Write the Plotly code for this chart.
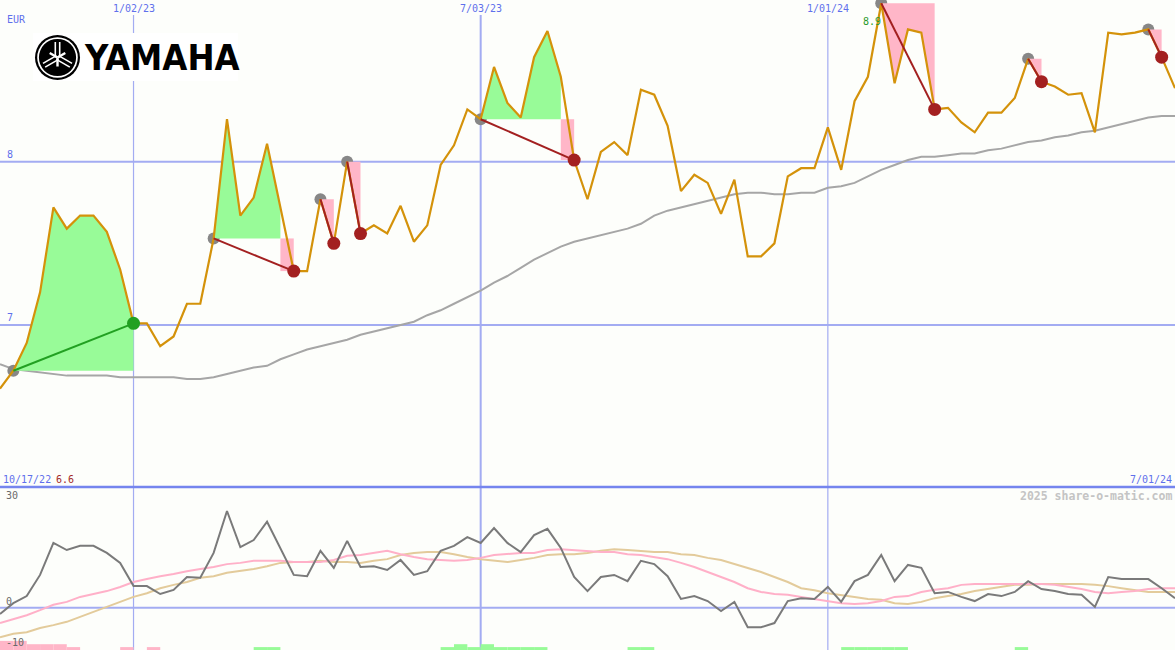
import math
import pandas as pd
import plotly.graph_objects as go

# ---------------- data (weekly) ----------------
weeks = pd.date_range("2022-10-24", periods=89, freq="7D")

price = [6.61, 6.72, 6.89, 7.20, 7.72, 7.59, 7.67, 7.67, 7.57, 7.34,
         7.01, 7.01, 6.87, 6.93, 7.13, 7.13, 7.53, 8.26, 7.67, 7.78,
         8.11, 7.72, 7.33, 7.33, 7.77, 7.50, 8.00, 7.56, 7.61, 7.56,
         7.73, 7.51, 7.61, 7.98, 8.10, 8.32, 8.26, 8.58, 8.36, 8.27,
         8.64, 8.80, 8.52, 8.01, 7.77, 8.06, 8.12, 8.04, 8.44, 8.41,
         8.22, 7.82, 7.92, 7.87, 7.68, 7.89, 7.42, 7.42, 7.50, 7.91,
         7.96, 7.96, 8.21, 7.95, 8.37, 8.52, 8.97, 8.48, 8.81, 8.79,
         8.32, 8.33, 8.24, 8.18, 8.30, 8.30, 8.39, 8.63, 8.49, 8.46,
         8.41, 8.42, 8.18, 8.79, 8.78, 8.79, 8.81, 8.64, 8.45]

moving_avg = [6.76, 6.73, 6.72, 6.71, 6.70, 6.69, 6.69, 6.69, 6.69, 6.68,
              6.68, 6.68, 6.68, 6.68, 6.67, 6.67, 6.68, 6.70, 6.72, 6.74,
              6.75, 6.79, 6.82, 6.85, 6.87, 6.89, 6.91, 6.94, 6.96, 6.98,
              7.00, 7.02, 7.06, 7.09, 7.13, 7.17, 7.21, 7.26, 7.30, 7.35,
              7.40, 7.44, 7.48, 7.51, 7.53, 7.55, 7.57, 7.59, 7.62, 7.67,
              7.70, 7.72, 7.74, 7.76, 7.78, 7.80, 7.81, 7.81, 7.80, 7.80,
              7.81, 7.81, 7.84, 7.85, 7.87, 7.91, 7.95, 7.98, 8.01, 8.03,
              8.03, 8.04, 8.05, 8.05, 8.07, 8.08, 8.10, 8.12, 8.13, 8.15,
              8.16, 8.18, 8.19, 8.21, 8.23, 8.25, 8.27, 8.28, 8.28]

momentum = [-1.5, 1.1, 2.8, 7.9, 15.6, 13.9, 14.9, 14.9, 13.2, 10.8,
            5.2, 5.2, 3.3, 4.3, 7.4, 7.2, 13.2, 23.3, 14.6, 16.3,
            20.7, 14.4, 7.9, 7.6, 13.7, 9.6, 16.1, 9.8, 10.0, 9.1,
            11.5, 7.9, 8.8, 13.7, 14.9, 17.0, 15.6, 19.2, 15.6, 13.4,
            17.5, 19.0, 14.4, 7.4, 4.0, 7.4, 7.9, 6.4, 11.3, 10.5,
            7.6, 2.1, 2.8, 1.6, -0.8, 1.4, -4.7, -4.7, -3.7, 1.6,
            2.3, 2.1, 5.0, 1.4, 6.4, 7.9, 12.7, 6.4, 10.3, 9.6,
            3.5, 3.8, 2.6, 1.6, 3.3, 2.8, 3.8, 6.4, 4.5, 4.0,
            3.3, 3.1, 0.2, 7.4, 6.9, 6.9, 6.9, 4.7, 2.3]

mom_fast = [-3.7, -2.7, -1.8, -0.6, 0.7, 1.4, 2.6, 3.3, 4.0, 5.0,
            6.2, 6.9, 7.6, 8.1, 8.8, 9.3, 9.8, 10.5, 10.8, 11.3,
            11.3, 11.3, 11.0, 11.0, 11.0, 11.5, 12.5, 12.7, 13.2, 13.7,
            12.9, 12.2, 11.7, 11.5, 11.3, 11.5, 12.0, 12.7, 12.9, 13.2,
            13.2, 13.9, 14.1, 13.9, 13.7, 13.4, 13.4, 12.9, 12.7, 12.2,
            11.7, 10.8, 9.8, 8.6, 7.4, 6.2, 4.7, 3.8, 3.3, 3.1,
            2.6, 2.1, 1.6, 1.1, 0.9, 1.1, 1.6, 2.6, 2.8, 3.8,
            4.3, 4.7, 5.5, 5.7, 5.7, 5.7, 5.7, 5.7, 5.7, 5.5,
            5.0, 4.5, 3.8, 3.5, 3.8, 4.0, 4.5, 4.7, 4.7]

mom_slow = [-7.1, -6.3, -5.9, -4.9, -4.2, -3.4, -2.2, -1.0, 0.2, 1.4,
            2.6, 3.5, 4.7, 5.5, 6.2, 7.2, 7.6, 8.4, 8.8, 9.3,
            10.0, 10.8, 11.0, 11.0, 11.3, 11.0, 11.0, 10.8, 11.3, 11.7,
            12.7, 13.2, 13.4, 13.4, 12.9, 12.2, 11.7, 11.3, 11.0, 11.5,
            12.0, 12.7, 12.9, 12.9, 13.2, 13.7, 14.1, 13.9, 13.7, 13.4,
            13.4, 12.9, 12.7, 12.0, 11.5, 10.5, 9.6, 8.6, 7.4, 6.2,
            4.7, 4.2, 3.5, 3.1, 2.6, 2.1, 1.9, 1.1, 0.9, 1.4,
            2.3, 2.8, 3.3, 4.0, 4.5, 5.0, 5.5, 5.5, 5.7, 5.7,
            5.7, 5.7, 5.5, 5.2, 4.7, 4.2, 3.8, 3.8, 3.8]

pink_bar_weeks = [0, 1, 2, 3, 4, 5, 9, 11]
pink_bar_vals = [2.2, 2.2, 1.4, 1.4, 1.4, 0.7, 0.7, 0.7]
green_bar_weeks = [19, 20, 33, 34, 35, 36, 37, 38, 39, 40, 47, 48, 63, 64, 65, 66, 67, 76]
green_bar_vals = [0.7, 0.7, 0.7, 1.4, 0.7, 1.4, 0.7, 0.7, 0.7, 0.7, 0.7, 0.7, 0.7, 0.7, 0.7, 0.7, 0.7, 0.7]

# highlighted swings: (start week index, end week index)
swings = [(1, 10), (16, 22), (24, 25), (26, 27), (36, 43), (66, 70), (77, 78), (86, 87)]

date_ticks = ["2023-01-02", "2023-07-03", "2024-01-01"]
date_tick_labels = ["1/02/23", "7/03/23", "1/01/24"]
start_label = "10/17/22"
end_label = "7/01/24"
price_ticks = [7, 8]
osc_ticks = [30, 0, -10]

# ---------------- styling ----------------
W, H = 1175, 650
BG = "#fdfefb"
BLUE_TXT = "#5f70ec"
GRID = "#a3acf2"
SEP = "#7585ee"
ORANGE = "#d4920a"
MONO = "DejaVu Sans Mono, Liberation Mono, monospace"
SPLIT = 163 / 650
Y1 = [6.008, 8.99]
Y2 = [-10.19, 29.08]


def px(x):
    return x / W


def py(y):
    return 1 - y / H


fig = go.Figure()

# moving average
fig.add_trace(go.Scatter(x=weeks, y=moving_avg, mode="lines",
                         line=dict(color="#a6a6a6", width=2), hoverinfo="skip"))

# start markers
fig.add_trace(go.Scatter(x=[weeks[s] for s, e in swings], y=[price[s] for s, e in swings],
                         mode="markers", marker=dict(color="#878787", size=12), hoverinfo="skip"))

# fills
for s, e in swings:
    level = price[s]
    j = s
    while j + 1 <= e and price[j + 1] >= level:
        j += 1
    if j > s:
        xs = list(weeks[s:j + 1]) + [weeks[j], weeks[s]]
        ys = price[s:j + 1] + [level, level]
        fig.add_trace(go.Scatter(x=xs, y=ys, fill="toself", mode="lines", line=dict(width=0),
                                 fillcolor="#98fb98", hoverinfo="skip"))
    if j == s:
        xs = list(weeks[s:e + 1]) + [weeks[e]]
        ys = price[s:e + 1] + [level]
        fig.add_trace(go.Scatter(x=xs, y=ys, fill="toself", mode="lines", line=dict(width=0),
                                 fillcolor="#ffb6c8", hoverinfo="skip"))
    elif j < e:
        xs = [weeks[j], weeks[e], weeks[e], weeks[j]]
        ys = [level, level, price[e], price[e]]
        fig.add_trace(go.Scatter(x=xs, y=ys, fill="toself", mode="lines", line=dict(width=0),
                                 fillcolor="#ffb6c8", hoverinfo="skip"))

# price line
fig.add_trace(go.Scatter(x=weeks, y=price, mode="lines",
                         line=dict(color=ORANGE, width=2.2), hoverinfo="skip"))

# swing connectors + end markers
for s, e in swings:
    up = price[e] > price[s]
    col = "#22a022" if up else "#a32020"
    fig.add_trace(go.Scatter(x=[weeks[s], weeks[e]], y=[price[s], price[e]], mode="lines",
                             line=dict(color=col, width=2), hoverinfo="skip"))
    fig.add_trace(go.Scatter(x=[weeks[e]], y=[price[e]], mode="markers",
                             marker=dict(color=col, size=13), hoverinfo="skip"))

# oscillator panel
half_week = pd.Timedelta(days=3.5)
bar_w = 7 * 86400000
fig.add_trace(go.Bar(x=[weeks[k] + half_week for k in pink_bar_weeks], y=pink_bar_vals,
                     base=Y2[0], width=bar_w, marker=dict(color="#ffb6c8", line=dict(width=0)),
                     yaxis="y2", hoverinfo="skip"))
fig.add_trace(go.Bar(x=[weeks[k] + half_week for k in green_bar_weeks], y=green_bar_vals,
                     base=Y2[0], width=bar_w, marker=dict(color="#98fb98", line=dict(width=0)),
                     yaxis="y2", hoverinfo="skip"))
fig.add_trace(go.Scatter(x=weeks, y=mom_slow, mode="lines", line=dict(color="#e3cb9b", width=2),
                         yaxis="y2", hoverinfo="skip"))
fig.add_trace(go.Scatter(x=weeks, y=mom_fast, mode="lines", line=dict(color="#ffb0c8", width=2),
                         yaxis="y2", hoverinfo="skip"))
fig.add_trace(go.Scatter(x=weeks, y=momentum, mode="lines", line=dict(color="#7a7a7a", width=2),
                         yaxis="y2", hoverinfo="skip"))

# ---------------- shapes ----------------
shapes = []
for v in price_ticks:
    shapes.append(dict(type="line", xref="paper", yref="y", x0=0, x1=1, y0=v, y1=v,
                       line=dict(color=GRID, width=2), layer="below"))
shapes.append(dict(type="line", xref="paper", yref="y2", x0=0, x1=1, y0=0, y1=0,
                   line=dict(color=GRID, width=2), layer="below"))
for d in date_ticks:
    wdt = 2 if d == "2023-07-03" else 1.2
    shapes.append(dict(type="line", xref="x", yref="paper", x0=d, x1=d, y0=0, y1=py(15),
                       line=dict(color=GRID, width=wdt), layer="below"))
shapes.append(dict(type="line", xref="paper", yref="paper", x0=0, x1=1, y0=SPLIT, y1=SPLIT,
                   line=dict(color=SEP, width=2.5), layer="above"))

# logo
cx, cy = 57.5, 57.5
shapes.append(dict(type="rect", xref="paper", yref="paper", x0=px(33), x1=px(238), y0=py(81), y1=py(33),
                   fillcolor="#ffffff", line=dict(width=0), layer="above"))
for r, colr in [(22.5, "#000000"), (20.3, "#ffffff"), (18.6, "#000000")]:
    shapes.append(dict(type="circle", xref="paper", yref="paper",
                       x0=px(cx - r), x1=px(cx + r), y0=py(cy + r), y1=py(cy - r),
                       fillcolor=colr, line=dict(width=0), layer="above"))
for ang in [90, 210, 330]:
    a = math.radians(ang)
    for off in (-2.2, 2.2):
        ox, oy = -math.sin(a) * off, -math.cos(a) * off
        x0, y0 = cx + ox, cy + oy
        x1, y1 = cx + ox + math.cos(a) * 15.5, cy + oy - math.sin(a) * 15.5
        shapes.append(dict(type="line", xref="paper", yref="paper", x0=px(x0), y0=py(y0),
                           x1=px(x1), y1=py(y1), line=dict(color="#ffffff", width=1.6), layer="above"))
    x1, y1 = cx - math.cos(a) * 9, cy + math.sin(a) * 9
    shapes.append(dict(type="line", xref="paper", yref="paper", x0=px(cx), y0=py(cy),
                       x1=px(x1), y1=py(y1), line=dict(color="#ffffff", width=2.4), layer="above"))

# ---------------- annotations ----------------
ann = []


def label(text, x, y, color=BLUE_TXT, size=10, anchor="left", family=MONO):
    ann.append(dict(text=text, xref="paper", yref="paper", x=px(x), y=py(y), showarrow=False,
                    xanchor=anchor, yanchor="middle", font=dict(family=family, size=size, color=color)))


label("EUR", 5, 19)
for v in price_ticks:
    yv = py(0) - (Y1[1] - v) / (Y1[1] - Y1[0]) * (1 - SPLIT)
    ann.append(dict(text=str(v), xref="paper", yref="paper", x=px(5), y=yv, yshift=7, showarrow=False,
                    xanchor="left", yanchor="middle", font=dict(family=MONO, size=10, color=BLUE_TXT)))
for d, t in zip(date_ticks, date_tick_labels):
    ann.append(dict(text=t, xref="x", yref="paper", x=d, y=py(8), showarrow=False,
                    xanchor="center", yanchor="middle", font=dict(family=MONO, size=10, color=BLUE_TXT)))
label(start_label, 1, 479)
label(f"{math.floor(min(price) * 10) / 10:.1f}", 54, 479, color="#a52a2a")
label(end_label, 1174, 479, anchor="right")
label("<b>2025 share-o-matic.com</b>", 1174, 496, color="#c4c4c4", size=11.5, anchor="right")
osc_y = {30: 495, 0: 601, -10: 642}
for v in osc_ticks:
    label(str(v), 4, osc_y[v], color="#6a6a6a")

imax = price.index(max(price))
ann.append(dict(text=f"{math.floor(max(price) * 10) / 10:.1f}", xref="x", yref="y",
                x=weeks[imax], y=price[imax], showarrow=False, xanchor="right", yanchor="middle",
                xshift=2, yshift=-18, font=dict(family=MONO, size=10, color="#2a9a2a")))

ann.append(dict(text="<b>YAMAHA</b>", xref="paper", yref="paper", x=px(82), y=py(58), showarrow=False,
                xanchor="left", yanchor="middle",
                font=dict(family="Liberation Sans Narrow, DejaVu Sans Condensed, Arial Narrow, sans-serif",
                          size=36, color="#000000")))

fig.update_layout(
    width=W, height=H,
    margin=dict(l=0, r=0, t=0, b=0, autoexpand=False),
    paper_bgcolor=BG, plot_bgcolor=BG,
    showlegend=False, barmode="overlay", hovermode=False,
    xaxis=dict(type="date", range=[weeks[0], weeks[-1]], domain=[0, 1], anchor="y2",
               visible=False, showgrid=False, zeroline=False, fixedrange=True),
    yaxis=dict(domain=[SPLIT, 1], range=Y1, visible=False, showgrid=False, zeroline=False),
    yaxis2=dict(domain=[0, SPLIT], range=Y2, visible=False, showgrid=False, zeroline=False),
    shapes=shapes, annotations=ann,
)

fig.write_html("out.html", config={"displayModeBar": False, "staticPlot": True},
               post_script="document.body.style.margin='0';document.body.style.overflow='hidden';")
